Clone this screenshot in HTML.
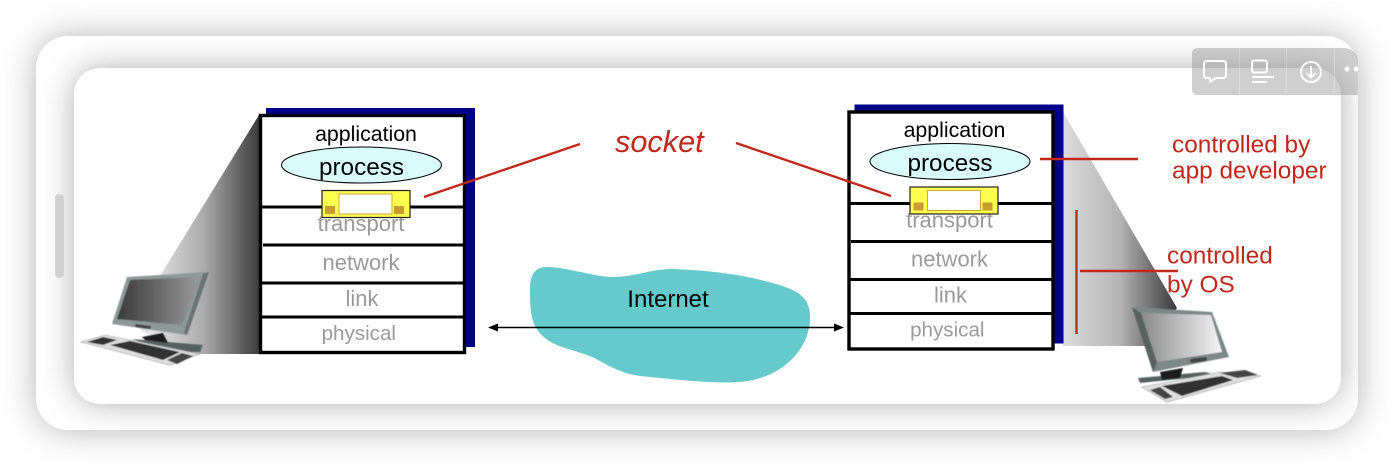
<!DOCTYPE html>
<html><head><meta charset="utf-8">
<style>
html,body{margin:0;padding:0;background:#fff;width:1394px;height:466px;overflow:hidden}
#o{position:absolute;left:36px;top:36px;width:1322px;height:394px;border-radius:32px;background:#fff;box-shadow:0 0 34px rgba(0,0,0,.3);overflow:hidden}
#i{position:absolute;left:38px;top:32px;width:1267px;height:336px;border-radius:26px;background:#fff;box-shadow:0 0 32px rgba(0,0,0,.32)}
#sb{position:absolute;left:55px;top:194px;width:9px;height:84px;border-radius:4px;background:#d2d2d2}
svg{position:absolute;left:0;top:0}
text{font-family:"Liberation Sans",sans-serif}
.g{fill:#9a9a9a;font-size:22px;text-anchor:middle}
.k{fill:#000;text-anchor:middle}
.r{fill:#c0281c;font-size:24.400px}
</style></head><body>
<div id="o"><div id="i"></div></div>
<div id="sb"></div>
<svg width="1394" height="466" viewBox="0 0 1394 466">
<defs>
<linearGradient id="wl" gradientUnits="userSpaceOnUse" x1="150" y1="0" x2="259" y2="0"><stop offset="0" stop-color="#e4e4e4"/><stop offset=".5" stop-color="#aaaaaa"/><stop offset="1" stop-color="#3c3c3c"/></linearGradient>
<linearGradient id="wr" gradientUnits="userSpaceOnUse" x1="1063" y1="0" x2="1176" y2="0"><stop offset="0" stop-color="#dcdcdc"/><stop offset=".5" stop-color="#b4b4b4"/><stop offset="1" stop-color="#3c3c3c"/></linearGradient>
<linearGradient id="sl" gradientUnits="userSpaceOnUse" x1="117" y1="0" x2="200" y2="0"><stop offset="0" stop-color="#3a3a3a"/><stop offset="1" stop-color="#9a9a9a"/></linearGradient>
<linearGradient id="sr" gradientUnits="userSpaceOnUse" x1="1141" y1="0" x2="1222" y2="0"><stop offset="0" stop-color="#8a8a8a"/><stop offset="1" stop-color="#f4f4f4"/></linearGradient>
<filter id="b" x="-5%" y="-5%" width="110%" height="110%"><feGaussianBlur stdDeviation="0.400"/></filter>
</defs>
<!-- wedges -->
<polygon points="259,115 160,276 140,330 190,354 259,354" fill="url(#wl)"/>
<polygon points="1063,112 1177,308 1150,346 1063,346" fill="url(#wr)"/>

<!-- left stack -->
<rect x="266" y="108" width="209" height="239" fill="#00008b"/>
<rect x="260.500" y="115.500" width="204" height="237" fill="#fff" stroke="#000" stroke-width="3.400"/>
<g stroke="#000" stroke-width="3"><line x1="261" y1="207" x2="464" y2="207"/><line x1="263" y1="245" x2="464" y2="245"/><line x1="261" y1="283" x2="464" y2="283"/><line x1="261" y1="317" x2="464" y2="317"/></g>
<text class="k" x="366" y="141" font-size="21.300">application</text>
<ellipse cx="361.500" cy="165" rx="80" ry="18" fill="#d9fbfc" stroke="#000" stroke-width="1"/>
<text class="k" x="361.500" y="175" font-size="24.300">process</text>
<text class="g" x="361" y="231">transport</text>
<text class="g" x="361" y="270">network</text>
<text class="g" x="362" y="306">link</text>
<text class="g" x="358.800" y="340" style="font-size:20.600px">physical</text>
<rect x="322" y="190.500" width="88" height="27" fill="#ffff50" stroke="#222" stroke-width="1.200"/>
<rect x="339" y="194" width="53" height="20" fill="#fff" stroke="#cfa83c" stroke-width="1"/>
<rect x="325" y="206" width="10" height="8" fill="#c89c30"/><rect x="394" y="206" width="10" height="8" fill="#c89c30"/>

<!-- right stack -->
<rect x="854.500" y="104.500" width="209" height="239" fill="#00008b"/>
<rect x="849" y="112" width="204" height="237" fill="#fff" stroke="#000" stroke-width="3.400"/>
<g stroke="#000" stroke-width="3"><line x1="850" y1="203.500" x2="1052" y2="203.500"/><line x1="851" y1="241.500" x2="1052" y2="241.500"/><line x1="850" y1="279.500" x2="1052" y2="279.500"/><line x1="850" y1="313.500" x2="1052" y2="313.500"/></g>
<text class="k" x="954.500" y="137" font-size="21.300">application</text>
<ellipse cx="950" cy="161.500" rx="80" ry="18" fill="#d9fbfc" stroke="#000" stroke-width="1"/>
<text class="k" x="950" y="171" font-size="24.300">process</text>
<text class="g" x="949.500" y="227.500">transport</text>
<text class="g" x="949.500" y="266.500">network</text>
<text class="g" x="950.500" y="302.500">link</text>
<text class="g" x="947.300" y="336.500" style="font-size:20.600px">physical</text>
<rect x="910" y="187" width="88" height="27" fill="#ffff50" stroke="#222" stroke-width="1.200"/>
<rect x="927.500" y="190.500" width="53" height="20" fill="#fff" stroke="#cfa83c" stroke-width="1"/>
<rect x="913.500" y="202.500" width="10" height="8" fill="#c89c30"/><rect x="982.500" y="202.500" width="10" height="8" fill="#c89c30"/>

<!-- cloud -->
<path d="M530,293 C529,275 535,266 549,267 C570,268 595,277 613,277 C635,277 650,269 673,269 C700,270 735,273 765,281 C785,286 800,291 806,301 C812,311 811,325 806,338 C798,358 778,376 748,381 C725,385 680,380 640,376 C618,373 605,363 592,357 C575,350 555,347 545,338 C533,328 530,318 530,293 Z" fill="#66cacd"/>
<text class="k" x="668" y="307" font-size="24">Internet</text>
<line x1="494" y1="327.500" x2="838" y2="327.500" stroke="#000" stroke-width="1.500"/>
<polygon points="488,327.500 498,323.500 498,331.500" fill="#000"/>
<polygon points="844,327.500 834,323.500 834,331.500" fill="#000"/>

<!-- socket label -->
<text x="615" y="152" font-size="30.700" font-style="italic" fill="#c0281c">socket</text>
<g stroke="#c0281c" stroke-width="2.400" fill="none">
<line x1="424" y1="197" x2="580" y2="144"/>
<line x1="736" y1="143" x2="891" y2="196"/>
<line x1="1040" y1="159" x2="1138" y2="159"/>
<line x1="1076.500" y1="210" x2="1076.500" y2="334"/>
<line x1="1080" y1="271" x2="1178" y2="271"/>
</g>
<text class="r" x="1172" y="152.500">controlled by</text>
<text class="r" x="1172" y="178.500">app developer</text>
<text class="r" x="1167" y="263.500">controlled</text>
<text class="r" x="1167" y="292.500">by OS</text>

<g filter="url(#b)">
<!-- left computer -->
<polygon points="132,339 203,345 200,352 170,352" fill="#56605e"/>
<polygon points="142,337 163,333 168,343 145,340" fill="#1f1f1f"/>
<polygon points="81,342 105,335 200,354 170,365" fill="#dedede" stroke="#999" stroke-width=".6"/>
<polygon points="87,342 103,337 117,340 103,345" fill="#333"/>
<polygon points="110,345 130,341 180,352 163,360" fill="#333"/>
<polygon points="167,360 182,353 193,356 177,364" fill="#444"/>
<polygon points="127,277 209,272 187,335 112,324" fill="#8e9897"/>
<polygon points="130,280 200,277 182,325 117,319" fill="url(#sl)"/>
<polygon points="209,272 187,335 184,333 203,274" fill="#6a7371"/>
<rect x="135" y="325" width="16" height="3" rx="1.500" transform="rotate(8 143 326)" fill="#444"/>

<!-- right computer -->
<polygon points="1138,378 1205,372 1217,375 1140,383" fill="#56605e"/>
<polygon points="1160,372 1183,368 1180,378 1162,380" fill="#1f1f1f"/>
<polygon points="1142,387 1220,372 1261,376 1167,402" fill="#dedede" stroke="#999" stroke-width=".6"/>
<polygon points="1162,386 1222,376 1233,380 1182,396" fill="#333"/>
<polygon points="1150,390 1160,387 1173,397 1165,399" fill="#444"/>
<polygon points="1220,373 1245,370 1258,375 1237,378" fill="#444"/>
<polygon points="1132,307 1212,312 1229,357 1153,372" fill="#7e8887"/>
<polygon points="1132,307 1141,313 1157,362 1153,372" fill="#59625f"/>
<polygon points="1141,313 1211,315 1222,352 1157,362" fill="url(#sr)"/>
<rect x="1190" y="358" width="17" height="4" rx="2" transform="rotate(-8 1198 360)" fill="#444"/>
</g>

<!-- toolbar -->
<path d="M1198,48 H1342 Q1358,48 1358,64 V95 H1198 Q1192,95 1192,89 V54 Q1192,48 1198,48 Z" fill="#8c8c8c" fill-opacity=".42"/>
<g stroke="#fff" stroke-opacity=".25" stroke-width="1"><line x1="1239.500" y1="48" x2="1239.500" y2="95"/><line x1="1286.500" y1="48" x2="1286.500" y2="95"/><line x1="1334.500" y1="48" x2="1334.500" y2="95"/></g>
<g stroke="#fff" stroke-width="2" fill="none" stroke-linejoin="round">
<path d="M1207,61 H1223 Q1226,61 1226,64 V75 Q1226,78 1223,78 H1216 L1210,82 V78 H1207 Q1204,78 1204,75 V64 Q1204,61 1207,61 Z"/>
<rect x="1252" y="60.500" width="15" height="12" rx="2"/>
<line x1="1252" y1="77" x2="1274" y2="77"/><line x1="1252" y1="82" x2="1267" y2="82"/>
<circle cx="1311" cy="72" r="10"/>
<path d="M1311,66 V77 M1306.500,73 L1311,77.500 L1315.500,73"/>
</g>
<circle cx="1347" cy="69" r="2.500" fill="#fff"/><circle cx="1356" cy="69" r="2.500" fill="#fff"/>
</svg>
</body></html>
